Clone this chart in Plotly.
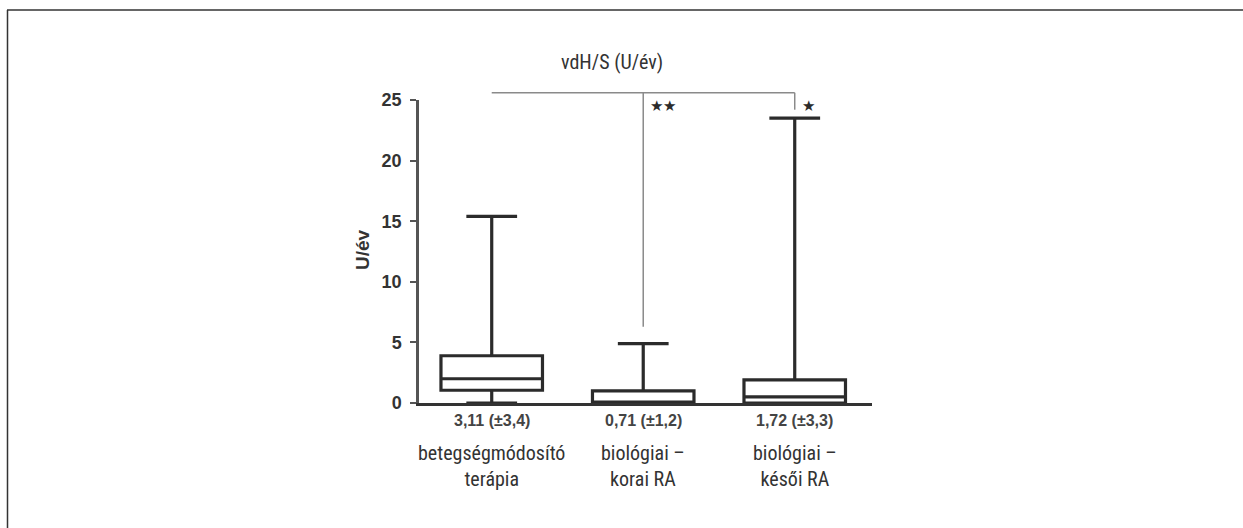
import plotly.graph_objects as go

# ---- data ----
categories = ["betegségmódosító<br>terápia", "biológiai –<br>korai RA", "biológiai –<br>késői RA"]
positions = [0, 1, 2]
lower_fence = [0.0, 0.0, 0.0]
q1 = [1.05, 0.0, 0.0]
median = [2.0, 0.0, 0.5]
q3 = [3.9, 1.0, 1.9]
upper_fence = [15.4, 4.9, 23.5]
stat_labels = ["3,11 (±3,4)", "0,71 (±1,2)", "1,72 (±3,3)"]
title_text = "vdH/S (U/év)"
y_title = "U/év"
y_ticks = [0, 5, 10, 15, 20, 25]

# significance bracket (data units)
bracket_level = 25.6
bracket_from = 0
bracket_drops = [(1, 6.3, "★★"), (2, 24.2, "★")]

# ---- layout geometry ----
W, H = 1243, 528
L, T = 419, 100
PW, PH = 453, 303
R, B = W - L - PW, H - T - PH
YMAX = 25

def xp(px):
    return (px - L) / PW

def yp(py):
    return (T + PH - py) / PH

def yv(v):
    return v / YMAX

ink = "#2b2b2b"
narrow = "Liberation Sans Narrow, Roboto Condensed, Arial Narrow, Roboto, sans-serif"
bold = "Liberation Sans, Arial, sans-serif"

fig = go.Figure()
fig.add_trace(go.Box(
    x=positions, q1=q1, median=median, q3=q3,
    lowerfence=lower_fence, upperfence=upper_fence,
    width=0.67, whiskerwidth=0.5,
    fillcolor="white", line=dict(color=ink, width=3.2),
    boxpoints=False, showlegend=False, hoverinfo="skip",
))

shapes = []
# frame (top + left)
shapes.append(dict(type="line", xref="paper", yref="paper", x0=xp(7), x1=xp(1243), y0=yp(10), y1=yp(10),
                   line=dict(color="#333", width=1.5)))
shapes.append(dict(type="line", xref="paper", yref="paper", x0=xp(7.5), x1=xp(7.5), y0=yp(10), y1=yp(528),
                   line=dict(color="#333", width=1.5)))
# bracket
gray = "#8a8a8a"
shapes.append(dict(type="line", xref="x", yref="paper", x0=bracket_from, x1=bracket_drops[-1][0],
                   y0=yv(bracket_level), y1=yv(bracket_level), line=dict(color=gray, width=1.5)))
annotations = []
for xpos, lvl, star in bracket_drops:
    shapes.append(dict(type="line", xref="x", yref="paper", x0=xpos, x1=xpos,
                       y0=yv(bracket_level), y1=yv(lvl), line=dict(color=gray, width=1.5)))
    annotations.append(dict(x=xpos, y=yv(bracket_level), xref="x", yref="paper", text=star,
                            showarrow=False, xanchor="left", yanchor="top", xshift=5, yshift=-2,
                            font=dict(size=15, color=ink, family=bold)))

for xpos, s, c in zip(positions, stat_labels, categories):
    annotations.append(dict(x=xpos, y=0, xref="x", yref="paper", text=s,
                            showarrow=False, yanchor="top", yshift=-7,
                            font=dict(size=16, color="#444", family=bold, weight="bold")))
    annotations.append(dict(x=xpos, y=0, xref="x", yref="paper", text=c,
                            showarrow=False, yanchor="top", yshift=-36,
                            font=dict(size=20, color="#333", family=narrow)))

annotations.append(dict(x=xp(612), y=yp(62), xref="paper", yref="paper", text=title_text,
                        showarrow=False, xanchor="center", yanchor="middle",
                        font=dict(size=20, color="#333", family=narrow)))
annotations.append(dict(x=xp(362), y=yp(250), xref="paper", yref="paper", text=y_title,
                        showarrow=False, xanchor="center", yanchor="middle", textangle=-90,
                        font=dict(size=19, color="#333", family=bold, weight="bold")))

fig.update_layout(
    width=W, height=H,
    margin=dict(l=L, r=R, t=T, b=B),
    paper_bgcolor="white", plot_bgcolor="white",
    shapes=shapes, annotations=annotations,
    xaxis=dict(range=[-0.48, 2.51], showline=True, linecolor="#333", linewidth=2.5,
               showticklabels=False, ticks="", showgrid=False, zeroline=False),
    yaxis=dict(range=[0, YMAX], tickvals=y_ticks, showline=True, linecolor="#555", linewidth=2.5,
               ticks="outside", ticklen=6, tickwidth=2, tickcolor="#555", ticklabelstandoff=5,
               showgrid=False, zeroline=False,
               tickfont=dict(size=18, color="#333", family=bold, weight="bold")),
)

fig.write_html("out.html", config={"displayModeBar": False},
               post_script="document.body.style.margin='0';document.body.style.overflow='hidden';")
